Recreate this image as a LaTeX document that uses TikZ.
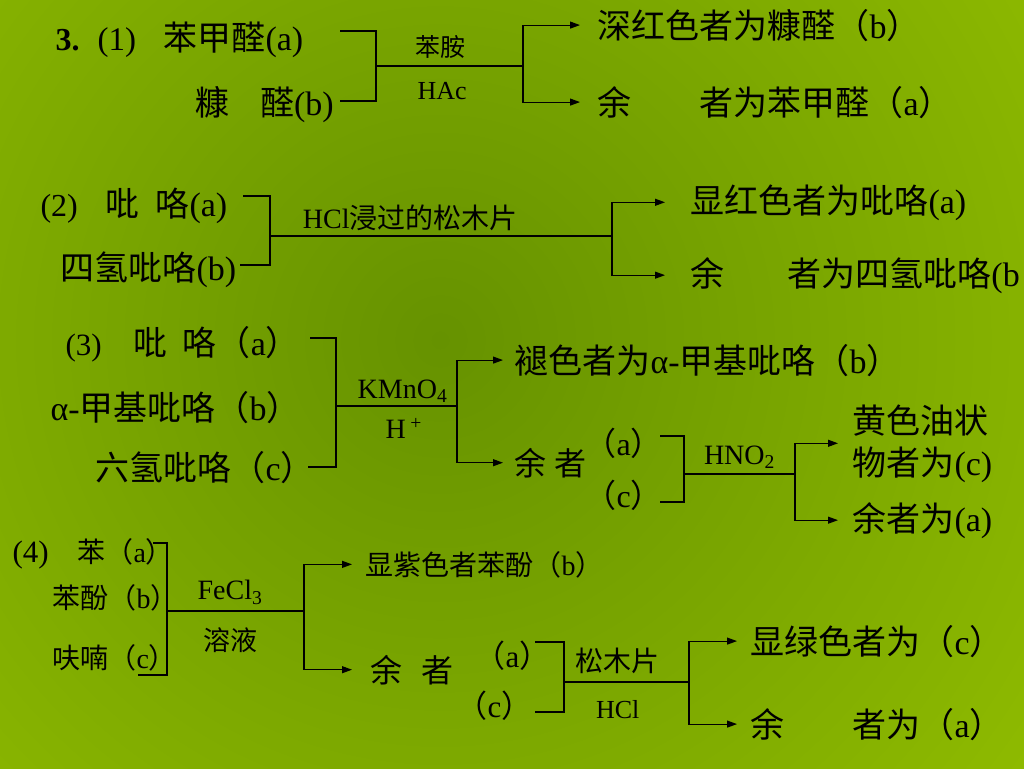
\documentclass[tikz,border=0pt]{standalone}
\usepackage{fontspec}
\setmainfont{Liberation Serif}
\newfontfamily\cjk{Noto Sans CJK SC}
\usetikzlibrary{positioning,arrows.meta}
\definecolor{bgout}{RGB}{164,208,0}
\definecolor{bgin}{RGB}{102,146,0}
\newcommand{\zh}[1]{{\cjk #1}}
\newcommand{\fs}[1]{\fontsize{#1}{#1}\selectfont}
\tikzset{
  item/.style={anchor=base west, inner sep=0pt, font=\fs{34}},
  reag/.style={inner sep=0pt, font=\fs{28}},
  >={Triangle[length=10pt,width=7pt]}
}
\begin{document}
\begin{tikzpicture}[x=1pt,y=-1pt,line width=1.1pt]
\useasboundingbox (0,0) rectangle (1024,768);
\clip (0,0) rectangle (1024,768);
\shade[inner color=bgin,outer color=bgout] (440,340) circle (1120);

% (1)
\node[item,font=\bfseries\fs{32}] (n3) at (55,51) {3.};
\node[item,font=\fs{33}] (p1) at (97,51) {(1)};
\node[item] (a1) at (163,51) {\zh{苯甲醛}(a)};
\node[item] (b1) at (195,115) {\zh{糠\hspace{0.9em}醛}(b)};
\coordinate (a1e) at (340,31);
\coordinate (b1e) at (340,101);
\coordinate (j1) at (376,66);
\coordinate (k1) at (523,66);
\node[item] (c1) at (597,38) {\zh{深红色者为糠醛（}b\zh{）}};
\node[item] (d1) at (597,115) {\zh{余\hspace{2em}者为苯甲醛（}a\zh{）}};
\draw (a1e) -| (j1) |- (b1e);
\draw (j1) -- node[reag,above=7pt,pos=0.44,font=\fs{25}] (r1) {\zh{苯胺}} node[reag,below=16pt,pos=0.45,font=\fs{26}] (s1) {HAc} (k1);
\draw[->,shorten >=17pt] (k1) |- (c1);
\draw[->,shorten >=17pt] (k1) |- (d1);

% (2)
\node[item,font=\fs{32}] (p2) at (40,216) {(2)};
\node[item] (a2) at (105,216) {\zh{吡\hspace{0.47em}咯}(a)};
\node[item] (b2) at (60,280) {\zh{四氢吡咯}(b)};
\coordinate (a2e) at (243,196);
\coordinate (b2e) at (240,265);
\coordinate (j2) at (270,236);
\coordinate (k2) at (612,236);
\node[item] (c2) at (690,213) {\zh{显红色者为吡咯}(a)};
\node[item] (d2) at (690,286) {\zh{余\hspace{1.85em}者为四氢吡咯}(b};
\draw (a2e) -| (j2) |- (b2e);
\draw (j2) -- node[reag,above=5pt,pos=0.41] (r2) {HCl\zh{浸过的松木片}} (k2);
\draw[->,shorten >=25pt] (k2) |- (c2);
\draw[->,shorten >=25pt] (k2) |- (d2);

% (3)
\node[item,font=\fs{31}] (p3) at (65,355) {(3)};
\node[item] (a3) at (133,355) {\zh{吡\hspace{0.45em}咯（}a\zh{）}};
\node[item] (b3) at (50,420) {α-\zh{甲基吡咯（}b\zh{）}};
\node[item] (c3) at (95,480) {\zh{六氢吡咯（}c\zh{）}};
\coordinate (a3e) at (310,338);
\coordinate (c3e) at (308,467);
\coordinate (j3) at (336,406);
\coordinate (k3) at (457,406);
\draw (a3e) -| (j3) |- (c3e);
\draw (j3) -- node[reag,above=3pt,pos=0.55] (r3) {KMnO\textsubscript{4}} node[reag,below=12pt,pos=0.56] (s3) {H\,\textsuperscript{+}} (k3);
\node[item] (d3) at (514,373) {\zh{褪色者为}α-\zh{甲基吡咯（}b\zh{）}};
\node[item,font=\fs{32}] (e3) at (514,475) {\zh{余\hspace{0.25em}者}};
\draw[->,shorten >=11pt] (k3) |- (d3);
\draw[->,shorten >=11pt] (k3) |- (e3);
\node[item,font=\fs{32}] (f3) at (584,455) {\zh{（}a\zh{）}};
\node[item,font=\fs{32}] (g3) at (584,507) {\zh{（}c\zh{）}};
\coordinate (f3e) at (660,436);
\coordinate (g3e) at (660,502);
\coordinate (j4) at (684,474);
\coordinate (k4) at (795,474);
\draw (f3e) -| (j4) |- (g3e);
\draw (j4) -- node[reag,above=5pt] (r4) {HNO\textsubscript{2}} (k4);
\node[item,font=\fontsize{34}{42}\selectfont,align=left] (h3) at (852,475) {\zh{黄色油状}\\\zh{物者为}(c)};
\node[item] (i3) at (852,531) {\zh{余者为}(a)};
\draw[->,shorten >=14pt] (k4) |- (h3);
\draw[->,shorten >=14pt] (k4) |- (i3);

% (4)
\node[item,font=\fs{31}] (p4) at (12,562) {(4)};
\node[item,font=\fs{28}] (a4) at (77,562) {\zh{苯（}a\zh{）}};
\node[item,font=\fs{28}] (b4) at (52,608) {\zh{苯酚（}b\zh{）}};
\node[item,font=\fs{28}] (c4) at (52,668) {\zh{呋喃（}c\zh{）}};
\coordinate (a4e) at (153,543);
\coordinate (c4e) at (138,675);
\coordinate (j5) at (167,611);
\coordinate (k5) at (304,611);
\draw (a4e) -| (j5) |- (c4e);
\draw (j5) -- node[reag,above=6pt,pos=0.46] (r5) {FeCl\textsubscript{3}} node[reag,below=16pt,pos=0.46,font=\fs{27}] (s5) {\zh{溶液}} (k5);
\node[item,font=\fs{28}] (d4) at (365,575) {\zh{显紫色者苯酚（}b\zh{）}};
\node[item,font=\fs{32}] (e4) at (370,682) {\zh{余\hspace{0.6em}者}};
\draw[->,shorten >=13pt] (k5) |- (d4);
\draw[->,shorten >=18pt] (k5) |- (e4);
\node[item,font=\fs{31}] (f4) at (474,667) {\zh{（}a\zh{）}};
\node[item,font=\fs{31}] (g4) at (456,717) {\zh{（}c\zh{）}};
\coordinate (f4e) at (535,642);
\coordinate (g4e) at (535,712);
\coordinate (j6) at (564,682);
\coordinate (k6) at (689,682);
\draw (f4e) -| (j6) |- (g4e);
\draw (j6) -- node[reag,above=8pt,pos=0.43] (r6) {\zh{松木片}} node[reag,below=18pt,pos=0.43,font=\fs{26}] (s6) {HCl} (k6);
\node[item] (h4) at (750,654) {\zh{显绿色者为（}c\zh{）}};
\node[item] (i4) at (750,737) {\zh{余\hspace{2em}者为（}a\zh{）}};
\draw[->,shorten >=13pt] (k6) |- (h4);
\draw[->,shorten >=13pt] (k6) |- (i4);
\end{tikzpicture}
\end{document}
